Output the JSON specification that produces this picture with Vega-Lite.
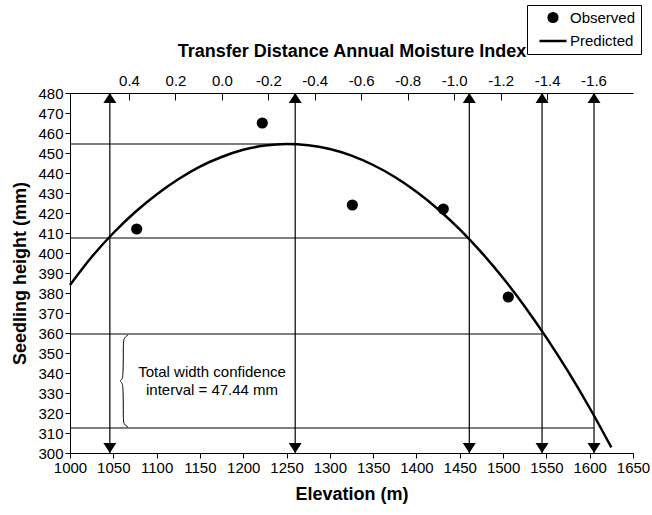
{
  "$schema": "https://vega.github.io/schema/vega-lite/v6.json",
  "width": 563,
  "height": 360,
  "autosize": "none",
  "padding": {"left": 70, "top": 93, "right": 19, "bottom": 62},
  "config": {
    "font": "Liberation Sans",
    "view": {"stroke": null},
    "axis": {
      "grid": false,
      "labelColor": "black",
      "titleColor": "black",
      "domainColor": "black",
      "tickColor": "black",
      "labelFontSize": 15,
      "titleFontSize": 18,
      "titleFontWeight": "bold",
      "labelFont": "Liberation Sans",
      "titleFont": "Liberation Sans",
      "labelOverlap": false,
      "labelFlush": false
    }
  },
  "datasets": {
    "obs": [
      {"elev": 1077, "height": 412, "series": "Observed"},
      {"elev": 1222, "height": 465, "series": "Observed"},
      {"elev": 1326, "height": 424, "series": "Observed"},
      {"elev": 1431, "height": 422, "series": "Observed"},
      {"elev": 1506, "height": 378, "series": "Observed"}
    ],
    "curve": [
      {"elev": 1000, "height": 384},
      {"elev": 1025, "height": 398},
      {"elev": 1050, "height": 410},
      {"elev": 1075, "height": 420.4},
      {"elev": 1100, "height": 429.3},
      {"elev": 1125, "height": 436.9},
      {"elev": 1150, "height": 443.2},
      {"elev": 1175, "height": 448},
      {"elev": 1200, "height": 451.6},
      {"elev": 1225, "height": 453.7},
      {"elev": 1250, "height": 454.5},
      {"elev": 1275, "height": 453.9},
      {"elev": 1300, "height": 452},
      {"elev": 1325, "height": 448.7},
      {"elev": 1350, "height": 444},
      {"elev": 1375, "height": 438},
      {"elev": 1400, "height": 430.6},
      {"elev": 1425, "height": 421.9},
      {"elev": 1450, "height": 411.8},
      {"elev": 1475, "height": 400.3},
      {"elev": 1500, "height": 387.5},
      {"elev": 1525, "height": 373.3},
      {"elev": 1550, "height": 357.7},
      {"elev": 1575, "height": 340.8},
      {"elev": 1600, "height": 322.5},
      {"elev": 1625, "height": 302.8}
    ],
    "arrows": [
      {"elev": 1046, "lo": 300, "hi": 480},
      {"elev": 1260, "lo": 300, "hi": 480},
      {"elev": 1461, "lo": 300, "hi": 480},
      {"elev": 1545, "lo": 300, "hi": 480},
      {"elev": 1605, "lo": 300, "hi": 480}
    ],
    "hlines": [
      {"height": 454.5, "start": 1000, "xend": 1260},
      {"height": 407.5, "start": 1000, "xend": 1461},
      {"height": 359.5, "start": 1000, "xend": 1545},
      {"height": 312.5, "start": 1000, "xend": 1605}
    ],
    "brace": [
      {"i": 1, "elev": 1067, "height": 359},
      {"i": 2, "elev": 1062, "height": 357.5},
      {"i": 3, "elev": 1061.5, "height": 354},
      {"i": 4, "elev": 1061.5, "height": 339},
      {"i": 5, "elev": 1060, "height": 336.6},
      {"i": 6, "elev": 1057, "height": 336},
      {"i": 7, "elev": 1060, "height": 335.4},
      {"i": 8, "elev": 1061.5, "height": 333},
      {"i": 9, "elev": 1061.5, "height": 317},
      {"i": 10, "elev": 1062, "height": 314.3},
      {"i": 11, "elev": 1067, "height": 313}
    ],
    "notes": [
      {"line": "Total width confidence", "elev": 1164, "height": 340.5},
      {"line": "interval = 47.44 mm", "elev": 1164, "height": 331.5}
    ],
    "topticks": [
      {"td": "0.4", "elev": 1068.1},
      {"td": "0.2", "elev": 1121.8},
      {"td": "0.0", "elev": 1175.4},
      {"td": "-0.2", "elev": 1229.0},
      {"td": "-0.4", "elev": 1282.6},
      {"td": "-0.6", "elev": 1336.3},
      {"td": "-0.8", "elev": 1389.9},
      {"td": "-1.0", "elev": 1443.5},
      {"td": "-1.2", "elev": 1497.1},
      {"td": "-1.4", "elev": 1550.8},
      {"td": "-1.6", "elev": 1604.4}
    ]
  },
  "layer": [
    {
      "data": {"name": "curve"},
      "mark": {"type": "line", "color": "black", "strokeWidth": 2.5, "interpolate": "monotone"},
      "encoding": {
        "x": {"field": "elev", "type": "quantitative", "scale": {"domain": [1000, 1650], "nice": false, "zero": false},
          "axis": {"title": "Elevation (m)", "format": "d", "labelFlush": false, "labelOverlap": false, "values": [1000,1050,1100,1150,1200,1250,1300,1350,1400,1450,1500,1550,1600,1650], "titlePadding": 10, "tickSize": 5}},
        "y": {"field": "height", "type": "quantitative", "scale": {"domain": [300, 480], "nice": false, "zero": false},
          "axis": {"title": "Seedling height (mm)", "format": "d", "labelOverlap": false, "labelFlush": false, "values": [300,310,320,330,340,350,360,370,380,390,400,410,420,430,440,450,460,470,480], "titlePadding": 8, "tickSize": 5}}
      }
    },
    {
      "data": {"name": "topticks"},
      "mark": {"type": "point", "opacity": 0},
      "encoding": {
        "x": {"field": "elev", "type": "quantitative",
          "axis": {"orient": "top", "title": "Transfer Distance Annual Moisture Index",
            "values": [1068.1, 1121.8, 1175.4, 1229.0, 1282.6, 1336.3, 1389.9, 1443.5, 1497.1, 1550.8, 1604.4],
            "labelExpr": "['0.4','0.2','0.0','-0.2','-0.4','-0.6','-0.8','-1.0','-1.2','-1.4','-1.6'][indexof([1068.1, 1121.8, 1175.4, 1229.0, 1282.6, 1336.3, 1389.9, 1443.5, 1497.1, 1550.8, 1604.4], datum.value)]",
            "tickSize": -7, "labelPadding": 12, "titlePadding": 13}}
      }
    },
    {
      "data": {"name": "hlines"},
      "mark": {"type": "rule", "color": "black", "strokeWidth": 1},
      "encoding": {
        "x": {"field": "start", "type": "quantitative", "axis": null},
        "x2": {"field": "xend"},
        "y": {"field": "height", "type": "quantitative",
          "axis": {"title": "Seedling height (mm)", "format": "d", "labelOverlap": false, "labelFlush": false, "values": [300,310,320,330,340,350,360,370,380,390,400,410,420,430,440,450,460,470,480], "titlePadding": 8, "tickSize": 5}}
      }
    },
    {
      "data": {"name": "arrows"},
      "mark": {"type": "rule", "color": "black", "strokeWidth": 1.2},
      "encoding": {
        "x": {"field": "elev", "type": "quantitative", "axis": null},
        "y": {"field": "lo", "type": "quantitative",
          "axis": {"title": "Seedling height (mm)", "format": "d", "labelOverlap": false, "labelFlush": false, "values": [300,310,320,330,340,350,360,370,380,390,400,410,420,430,440,450,460,470,480], "titlePadding": 8, "tickSize": 5}},
        "y2": {"field": "hi"}
      }
    },
    {
      "data": {"name": "arrows"},
      "mark": {"type": "point", "shape": "M0,-1L1.3,1L-1.3,1Z", "filled": true, "color": "black", "opacity": 1, "size": 100, "yOffset": 5},
      "encoding": {
        "x": {"field": "elev", "type": "quantitative", "axis": null},
        "y": {"field": "hi", "type": "quantitative",
          "axis": {"title": "Seedling height (mm)", "format": "d", "labelOverlap": false, "labelFlush": false, "values": [300,310,320,330,340,350,360,370,380,390,400,410,420,430,440,450,460,470,480], "titlePadding": 8, "tickSize": 5}}
      }
    },
    {
      "data": {"name": "arrows"},
      "mark": {"type": "point", "shape": "M0,1L1.3,-1L-1.3,-1Z", "filled": true, "color": "black", "opacity": 1, "size": 100, "yOffset": -5},
      "encoding": {
        "x": {"field": "elev", "type": "quantitative", "axis": null},
        "y": {"field": "lo", "type": "quantitative",
          "axis": {"title": "Seedling height (mm)", "format": "d", "labelOverlap": false, "labelFlush": false, "values": [300,310,320,330,340,350,360,370,380,390,400,410,420,430,440,450,460,470,480], "titlePadding": 8, "tickSize": 5}}
      }
    },
    {
      "data": {"name": "brace"},
      "mark": {"type": "line", "color": "black", "strokeWidth": 1, "interpolate": "basis"},
      "encoding": {
        "x": {"field": "elev", "type": "quantitative", "axis": null},
        "y": {"field": "height", "type": "quantitative",
          "axis": {"title": "Seedling height (mm)", "format": "d", "labelOverlap": false, "labelFlush": false, "values": [300,310,320,330,340,350,360,370,380,390,400,410,420,430,440,450,460,470,480], "titlePadding": 8, "tickSize": 5}},
        "order": {"field": "i", "type": "quantitative"}
      }
    },
    {
      "data": {"name": "notes"},
      "mark": {"type": "text", "fontSize": 15, "color": "black", "align": "center", "baseline": "middle"},
      "encoding": {
        "x": {"field": "elev", "type": "quantitative", "axis": null},
        "y": {"field": "height", "type": "quantitative",
          "axis": {"title": "Seedling height (mm)", "format": "d", "labelOverlap": false, "labelFlush": false, "values": [300,310,320,330,340,350,360,370,380,390,400,410,420,430,440,450,460,470,480], "titlePadding": 8, "tickSize": 5}},
        "text": {"field": "line"}
      }
    },
    {
      "data": {"name": "obs"},
      "mark": {"type": "point", "filled": true, "fill": "black", "stroke": "black", "opacity": 1},
      "encoding": {
        "x": {"field": "elev", "type": "quantitative", "axis": null},
        "y": {"field": "height", "type": "quantitative",
          "axis": {"title": "Seedling height (mm)", "format": "d", "labelOverlap": false, "labelFlush": false, "values": [300,310,320,330,340,350,360,370,380,390,400,410,420,430,440,450,460,470,480], "titlePadding": 8, "tickSize": 5}},
        "shape": {"field": "series", "type": "nominal",
          "scale": {"domain": ["Observed", "Predicted"], "range": ["circle", "stroke"]},
          "legend": {
            "title": null, "orient": "none", "legendX": 457, "legendY": -88,
            "strokeColor": "black", "fillColor": "white", "padding": 5,
            "labelFontSize": 15, "labelColor": "black", "labelOffset": 2, "symbolOffset": 6,
            "rowPadding": -6, "symbolFillColor": "black", "symbolStrokeColor": "black", "symbolOpacity": 1
          }},
        "size": {"field": "series", "type": "nominal",
          "scale": {"domain": ["Observed", "Predicted"], "range": [125, 729]}},
        "strokeWidth": {"field": "series", "type": "nominal",
          "scale": {"domain": ["Observed", "Predicted"], "range": [0, 2.5]}}
      }
    }
  ],
  "resolve": {"axis": {"x": "independent"}}
}
